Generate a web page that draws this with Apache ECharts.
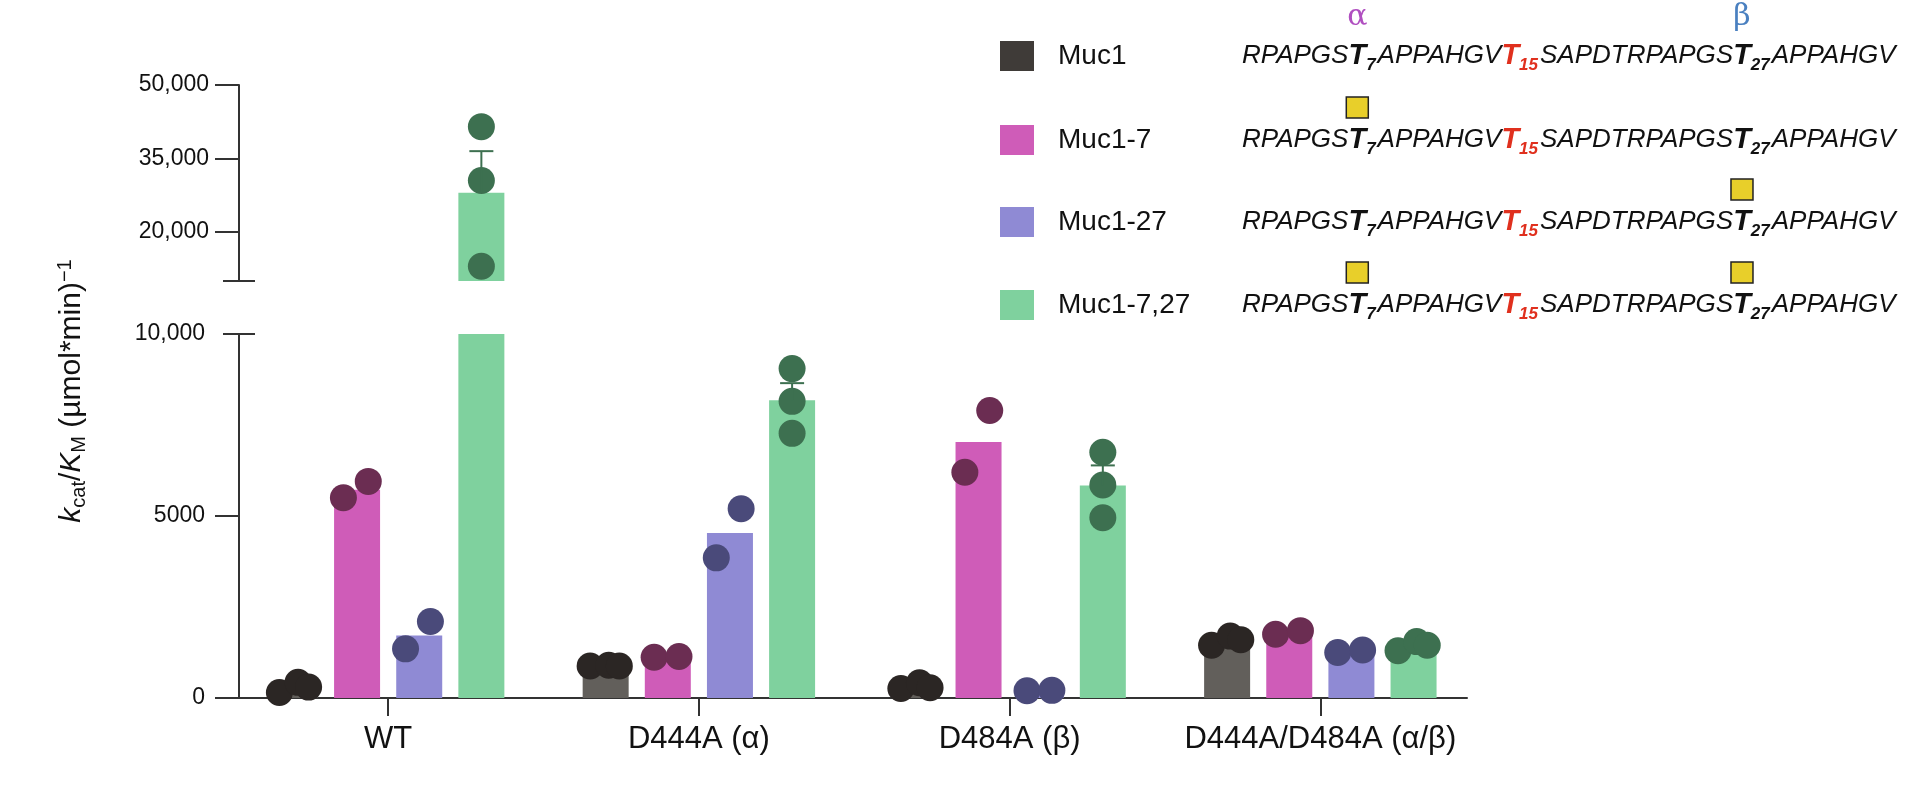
<!DOCTYPE html>
<html>
<head>
<meta charset="utf-8">
<title>kcat/KM</title>
<script src="https://cdn.jsdelivr.net/npm/echarts@6/dist/echarts.min.js"></script>
<style>html,body{margin:0;background:#fff}</style>
</head>
<body>
<div id="main" style="width:1920px;height:798px;"></div>
<script type="text/javascript">
var groups = ['WT', 'D444A (α)', 'D484A (β)', 'D444A/D484A (α/β)'];
var seriesNames = ['Muc1', 'Muc1-7', 'Muc1-27', 'Muc1-7,27'];
var barColors = ['#625f5b', '#cf5cb8', '#8f8ad4', '#7fd19e'];
var legendColors = ['#3f3b38', '#cf5cb8', '#8f8ad4', '#7fd19e'];
var dotColors = ['#2b2624', '#6b2d52', '#4a4a7a', '#3d7050'];

// bar means per series, one value per group
var muc1Means = [330, 900, 320, 1590];
var muc17Means = [5720, 1080, 7030, 1800];
var muc127Means = [1720, 4530, 200, 1300];
var muc1727Means = [28000, 8180, 5840, 1450];
var means = [muc1Means, muc17Means, muc127Means, muc1727Means];

// replicate points per series / group
var muc1Points = [[150, 430, 300], [880, 900, 880], [260, 420, 280], [1450, 1700, 1600]];
var muc17Points = [[5500, 5950], [1120, 1140], [6200, 7900], [1750, 1850]];
var muc127Points = [[1350, 2100], [3850, 5200], [200, 210], [1250, 1320]];
var muc1727Points = [[13000, 30500, 41500], [7270, 8150, 9050], [4950, 5850, 6750], [1300, 1550, 1450]];
var points = [muc1Points, muc17Points, muc127Points, muc1727Points];
// horizontal spread of the dots (in bar slots)
var dotOffsets = {
    1: [0],
    2: [-0.22, 0.18],
    3: [-0.25, 0.05, 0.22]
};
var stackedDots = [[false, false, false, false], [false, false, false, false],
    [false, false, false, false], [true, true, true, false]];

// upper SEM values (only shown for Muc1-7,27)
var semTops = [36500, 8650, 6390, null];

var yLowTicks = [0, 5000, 10000];
var yHighTicks = [20000, 35000, 50000];

var FONT = '"Liberation Sans", Arial, sans-serif';
var myChart = echarts.init(document.getElementById('main'));

function xPos(g, i) { return 5 * g + 1 + i; }
function fmt(v) { return v >= 10000 ? echarts.format.addCommas(v) : String(v); }

var series = [];
[0, 1].forEach(function (gi) {
    var lo = gi === 0 ? 0 : 10000, hi = gi === 0 ? 10000 : 50000;
    seriesNames.forEach(function (name, i) {
        var bars = [];
        means[i].forEach(function (m, g) {
            if (gi === 0 || m > 10000) bars.push([xPos(g, i), m]);
        });
        series.push({
            type: 'bar', name: name, xAxisIndex: gi, yAxisIndex: gi,
            barWidth: 46, barGap: '-100%', data: bars, clip: true,
            itemStyle: {color: barColors[i]}, z: 2, silent: true
        });
        var dots = [];
        points[i].forEach(function (pts, g) {
            pts.forEach(function (v, k) {
                var off = stackedDots[i][g] ? 0 : dotOffsets[pts.length][k];
                if (v >= lo && v <= hi) dots.push([xPos(g, i) + off, v]);
            });
        });
        series.push({
            type: 'scatter', xAxisIndex: gi, yAxisIndex: gi, data: dots,
            symbolSize: 27, itemStyle: {color: dotColors[i], opacity: 1}, z: 4, silent: true
        });
    });
    // error bars (upper half)
    var errs = [];
    semTops.forEach(function (t, g) {
        var m = muc1727Means[g];
        if (t != null && (gi === 0 ? m < 10000 : m > 10000)) errs.push([xPos(g, 3), m, t]);
    });
    series.push({
        type: 'custom', xAxisIndex: gi, yAxisIndex: gi, data: errs, z: 5, silent: true,
        renderItem: function (params, api) {
            var a = api.coord([api.value(0), api.value(1)]);
            var b = api.coord([api.value(0), api.value(2)]);
            var st = {stroke: '#3d7050', lineWidth: 2};
            return {type: 'group', children: [
                {type: 'line', shape: {x1: a[0], y1: a[1], x2: b[0], y2: b[1]}, style: st},
                {type: 'line', shape: {x1: b[0] - 12, y1: b[1], x2: b[0] + 12, y2: b[1]}, style: st}
            ]};
        }
    });
    // axis break caps
    series.push({
        type: 'custom', xAxisIndex: gi, yAxisIndex: gi, data: [[0.1, 10000]], z: 6, silent: true,
        renderItem: function (params, api) {
            var p = api.coord([api.value(0), api.value(1)]);
            return {type: 'line', shape: {x1: p[0] - 16, y1: p[1], x2: p[0] + 16, y2: p[1]},
                style: {stroke: '#333', lineWidth: 2}};
        }
    });
});

var axisLine = {show: true, lineStyle: {color: '#333', width: 2}};
var groupTicks = [2.5, 7.5, 12.5, 17.5];

// legend + peptide sequences
var graphics = [];
var rowY = [56, 140, 222, 305];
var seqX = 1212;
var rich = {
    n: {font: 'italic 26px ' + FONT, fill: '#111'},
    b: {font: 'italic bold 29px ' + FONT, fill: '#111'},
    bs: {font: 'italic bold 17px ' + FONT, fill: '#111', padding: [18, 2, 0, 0]},
    r: {font: 'italic bold 29px ' + FONT, fill: '#e0301e'},
    rs: {font: 'italic bold 17px ' + FONT, fill: '#e0301e', padding: [18, 2, 0, 0]}
};
var seqText = '{n|RPAPGS}{b|T}{bs|7}{n|APPAHGV}{r|T}{rs|15}{n|SAPDTRPAPGS}{b|T}{bs|27}{n|APPAHGV}';
var ctx = document.createElement('canvas').getContext('2d');
function w(font, s) { ctx.font = font; return ctx.measureText(s).width; }
var t7x = seqX + w(rich.n.font, 'RPAPGS') + w(rich.b.font, 'T') / 2;
var t27x = seqX + w(rich.n.font, 'RPAPGS') + w(rich.b.font, 'T') + w(rich.bs.font, '7') + 2 +
    w(rich.n.font, 'APPAHGV') + w(rich.r.font, 'T') + w(rich.rs.font, '15') + 2 +
    w(rich.n.font, 'SAPDTRPAPGS') + w(rich.b.font, 'T') / 2;
var sugars = [[], [t7x], [t27x], [t7x, t27x]];

seriesNames.forEach(function (name, i) {
    graphics.push({type: 'rect', shape: {x: 1000, y: rowY[i] - 15, width: 34, height: 30},
        style: {fill: legendColors[i]}});
    graphics.push({type: 'text', x: 1058, y: rowY[i], style: {text: name, font: '28px ' + FONT,
        fill: '#111', verticalAlign: 'middle'}});
    graphics.push({type: 'text', x: seqX + 30, y: rowY[i], style: {text: seqText, rich: rich,
        verticalAlign: 'middle'}});
    sugars[i].forEach(function (sx) {
        graphics.push({type: 'rect', shape: {x: sx + 30 - 11, y: rowY[i] - 43, width: 22, height: 21},
            style: {fill: '#e8cf2a', stroke: '#222', lineWidth: 1.5}});
    });
});
graphics.push({type: 'text', x: t7x + 30, y: 17, style: {text: 'α', font: '30px "DejaVu Serif", serif',
    fill: '#b04fc0', align: 'center', verticalAlign: 'middle'}});
graphics.push({type: 'text', x: t27x + 30, y: 17, style: {text: 'β', font: '30px "DejaVu Serif", serif',
    fill: '#4a80c0', align: 'center', verticalAlign: 'middle'}});
graphics.push({type: 'text', x: 72, y: 391, rotation: Math.PI / 2,
    style: {
        text: '{i|k}{s|cat}{n|/}{i|K}{s|M}{n| (µmol*min)}{p|−1}', align: 'center', verticalAlign: 'middle',
        rich: {
            i: {font: 'italic 30px ' + FONT, fill: '#111'},
            n: {font: '30px ' + FONT, fill: '#111'},
            s: {font: '20px ' + FONT, fill: '#111', padding: [14, 0, 0, 0]},
            p: {font: '20px ' + FONT, fill: '#111', padding: [0, 0, 14, 0]}
        }
    }});

var option = {
    animation: false,
    grid: [
        {left: 239, width: 1228, top: 334, height: 364},
        {left: 239, width: 1228, top: 85, height: 196}
    ],
    xAxis: [
        {type: 'value', gridIndex: 0, min: 0.1, max: 19.86, splitLine: {show: false},
            axisLine: axisLine,
            axisTick: {show: true, customValues: groupTicks, length: 18, lineStyle: {color: '#333', width: 2}},
            axisLabel: {customValues: groupTicks, margin: 26, fontFamily: FONT, fontSize: 31, color: '#111',
                formatter: function (v) { return groups[Math.round((v - 2.5) / 5)]; }}},
        {type: 'value', gridIndex: 1, min: 0.1, max: 19.86, show: false}
    ],
    yAxis: [
        {type: 'value', gridIndex: 0, min: 0, max: 10000, splitLine: {show: false}, axisLine: axisLine,
            axisTick: {show: true, customValues: [0, 5000], length: 24, lineStyle: {color: '#333', width: 2}},
            axisLabel: {customValues: yLowTicks, margin: 34, fontFamily: FONT, fontSize: 23, color: '#111',
                formatter: fmt}},
        {type: 'value', gridIndex: 1, min: 10000, max: 50000, splitLine: {show: false}, axisLine: axisLine,
            axisTick: {show: true, customValues: yHighTicks, length: 24, lineStyle: {color: '#333', width: 2}},
            axisLabel: {customValues: yHighTicks, margin: 30, fontFamily: FONT, fontSize: 23, color: '#111',
                formatter: fmt}}
    ],
    graphic: graphics,
    series: series
};
myChart.setOption(option);
</script>
</body>
</html>
